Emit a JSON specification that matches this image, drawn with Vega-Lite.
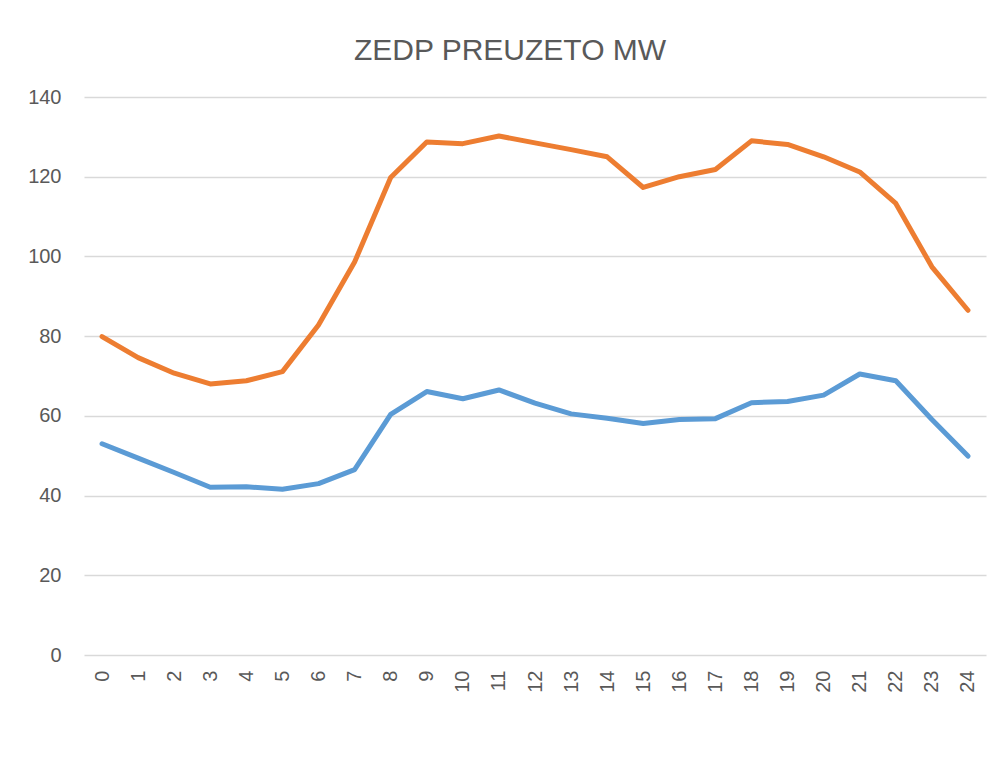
{
  "$schema": "https://vega.github.io/schema/vega-lite/v6.json",
  "width": 902,
  "height": 558,
  "autosize": {"type": "none"},
  "padding": {"left": 84, "top": 97, "right": 17, "bottom": 111},
  "background": "white",
  "title": {
    "text": "ZEDP PREUZETO MW",
    "font": "Liberation Sans",
    "fontSize": 30,
    "fontWeight": "normal",
    "color": "#595959",
    "anchor": "middle",
    "dx": -25,
    "offset": 21
  },
  "config": {
    "view": {"stroke": null}
  },
  "data": {
    "values": [
      {"h": 0, "s": "A", "v": 79.9}, {"h": 1, "s": "A", "v": 74.6}, {"h": 2, "s": "A", "v": 70.7},
      {"h": 3, "s": "A", "v": 68.0}, {"h": 4, "s": "A", "v": 68.8}, {"h": 5, "s": "A", "v": 71.1},
      {"h": 6, "s": "A", "v": 82.8}, {"h": 7, "s": "A", "v": 98.6}, {"h": 8, "s": "A", "v": 119.8},
      {"h": 9, "s": "A", "v": 128.7}, {"h": 10, "s": "A", "v": 128.3}, {"h": 11, "s": "A", "v": 130.2},
      {"h": 12, "s": "A", "v": 128.5}, {"h": 13, "s": "A", "v": 126.8}, {"h": 14, "s": "A", "v": 125.0},
      {"h": 15, "s": "A", "v": 117.3}, {"h": 16, "s": "A", "v": 120.0}, {"h": 17, "s": "A", "v": 121.8},
      {"h": 18, "s": "A", "v": 129.0}, {"h": 19, "s": "A", "v": 128.1}, {"h": 20, "s": "A", "v": 125.0},
      {"h": 21, "s": "A", "v": 121.2}, {"h": 22, "s": "A", "v": 113.3}, {"h": 23, "s": "A", "v": 97.4},
      {"h": 24, "s": "A", "v": 86.5},
      {"h": 0, "s": "B", "v": 53.0}, {"h": 1, "s": "B", "v": 49.4}, {"h": 2, "s": "B", "v": 45.8},
      {"h": 3, "s": "B", "v": 42.1}, {"h": 4, "s": "B", "v": 42.2}, {"h": 5, "s": "B", "v": 41.6},
      {"h": 6, "s": "B", "v": 43.0}, {"h": 7, "s": "B", "v": 46.5}, {"h": 8, "s": "B", "v": 60.4},
      {"h": 9, "s": "B", "v": 66.1}, {"h": 10, "s": "B", "v": 64.3}, {"h": 11, "s": "B", "v": 66.5},
      {"h": 12, "s": "B", "v": 63.2}, {"h": 13, "s": "B", "v": 60.5}, {"h": 14, "s": "B", "v": 59.4},
      {"h": 15, "s": "B", "v": 58.1}, {"h": 16, "s": "B", "v": 59.1}, {"h": 17, "s": "B", "v": 59.3},
      {"h": 18, "s": "B", "v": 63.3}, {"h": 19, "s": "B", "v": 63.6}, {"h": 20, "s": "B", "v": 65.2},
      {"h": 21, "s": "B", "v": 70.5}, {"h": 22, "s": "B", "v": 68.8}, {"h": 23, "s": "B", "v": 59.1},
      {"h": 24, "s": "B", "v": 49.9}
    ]
  },
  "mark": {"type": "line", "strokeWidth": 5, "strokeCap": "round", "strokeJoin": "round"},
  "encoding": {
    "x": {
      "field": "h",
      "type": "ordinal",
      "sort": null,
      "scale": {"type": "point", "padding": 0.5},
      "axis": {
        "title": null, "labelAngle": -90, "labelPadding": 15, "grid": false, "ticks": false, "domain": false,
        "labelFont": "Liberation Sans", "labelFontSize": 20, "labelColor": "#595959"
      }
    },
    "y": {
      "field": "v",
      "type": "quantitative",
      "scale": {"domain": [0, 140], "nice": false},
      "axis": {
        "title": null, "values": [0, 20, 40, 60, 80, 100, 120, 140], "grid": true, "gridColor": "#D9D9D9", "gridWidth": 1.3,
        "ticks": false, "domain": false, "labelPadding": 23,
        "labelFont": "Liberation Sans", "labelFontSize": 20, "labelColor": "#595959"
      }
    },
    "color": {
      "field": "s",
      "type": "nominal",
      "scale": {"domain": ["A", "B"], "range": ["#ED7D31", "#5B9BD5"]},
      "legend": null
    }
  }
}
